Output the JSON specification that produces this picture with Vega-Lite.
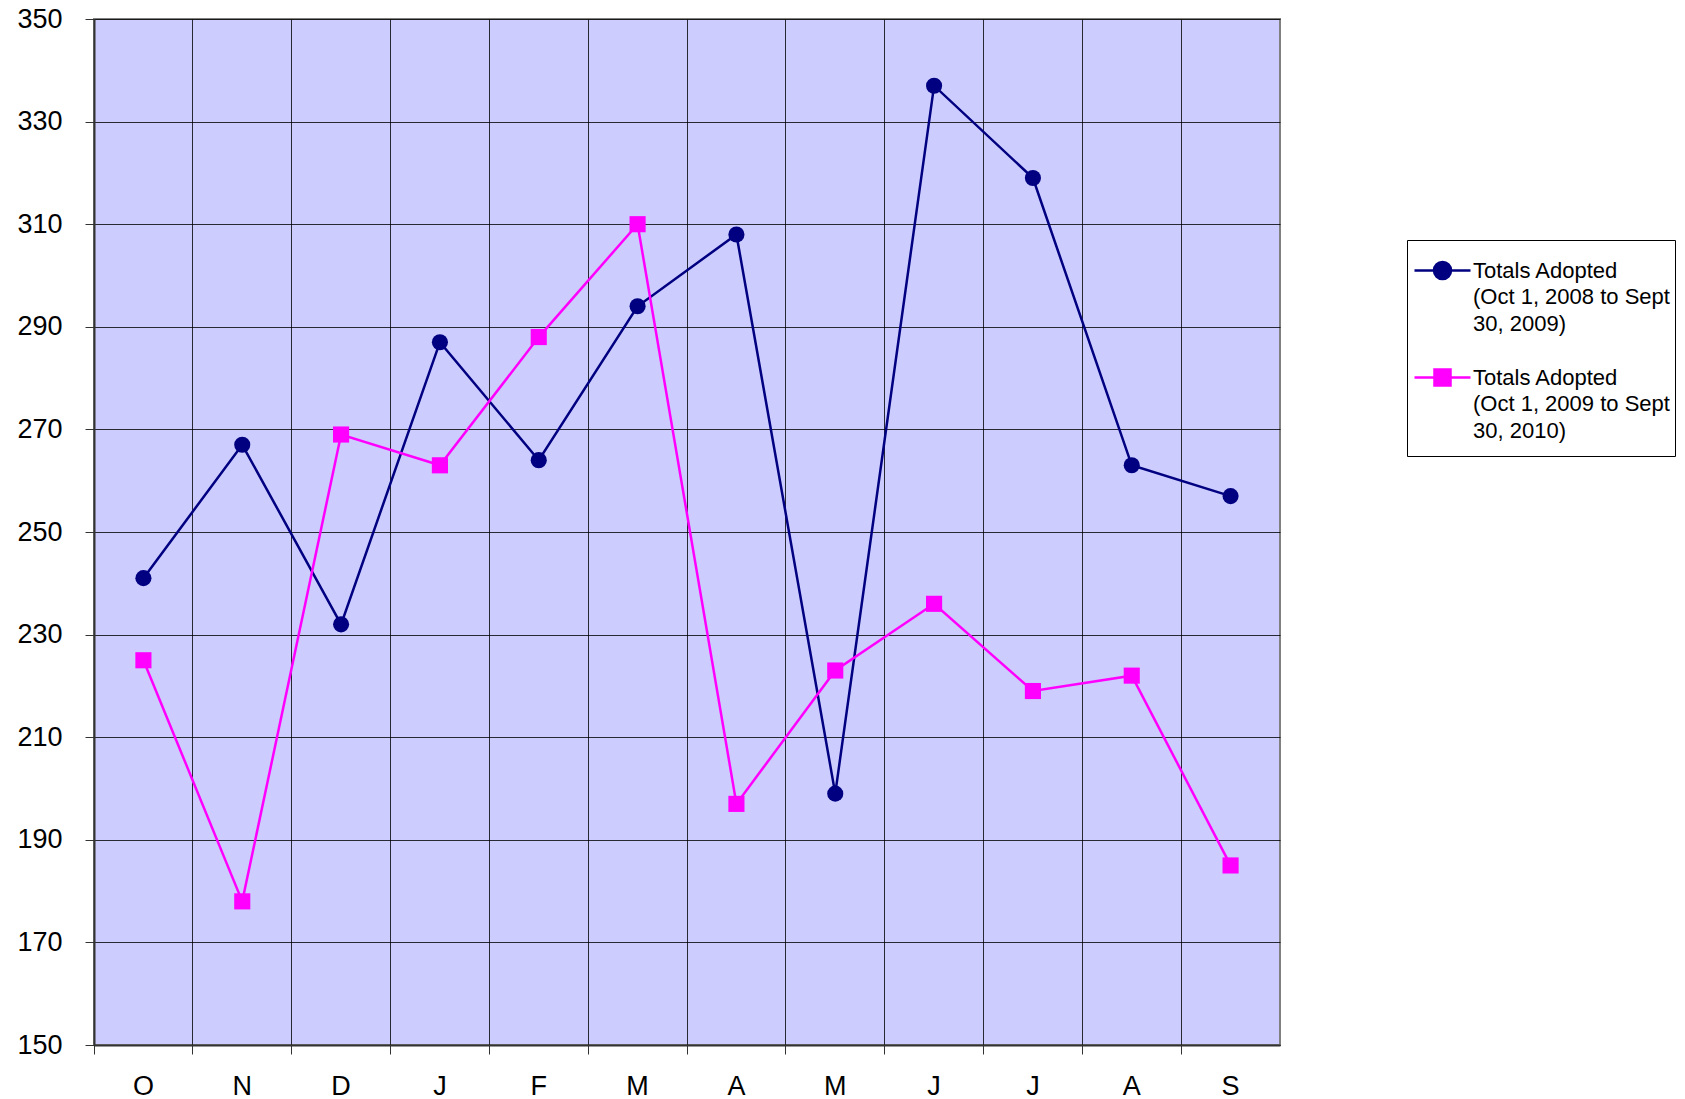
{
  "$schema": "https://vega.github.io/schema/vega-lite/v6.json",
  "autosize": "none",
  "padding": {"left": 94, "top": 19, "right": 405, "bottom": 54},
  "width": 1186,
  "height": 1026,
  "background": "white",
  "config": {
    "view": {"fill": "#CCCCFF", "stroke": "#808080", "strokeWidth": 2},
    "font": "Liberation Sans"
  },
  "data": {
    "values": [
      {"month": "Oct", "series": "Totals Adopted (Oct 1, 2008 to Sept 30, 2009)", "value": 241},
      {"month": "Nov", "series": "Totals Adopted (Oct 1, 2008 to Sept 30, 2009)", "value": 267},
      {"month": "Dec", "series": "Totals Adopted (Oct 1, 2008 to Sept 30, 2009)", "value": 232},
      {"month": "Jan", "series": "Totals Adopted (Oct 1, 2008 to Sept 30, 2009)", "value": 287},
      {"month": "Feb", "series": "Totals Adopted (Oct 1, 2008 to Sept 30, 2009)", "value": 264},
      {"month": "Mar", "series": "Totals Adopted (Oct 1, 2008 to Sept 30, 2009)", "value": 294},
      {"month": "Apr", "series": "Totals Adopted (Oct 1, 2008 to Sept 30, 2009)", "value": 308},
      {"month": "May", "series": "Totals Adopted (Oct 1, 2008 to Sept 30, 2009)", "value": 199},
      {"month": "Jun", "series": "Totals Adopted (Oct 1, 2008 to Sept 30, 2009)", "value": 337},
      {"month": "Jul", "series": "Totals Adopted (Oct 1, 2008 to Sept 30, 2009)", "value": 319},
      {"month": "Aug", "series": "Totals Adopted (Oct 1, 2008 to Sept 30, 2009)", "value": 263},
      {"month": "Sep", "series": "Totals Adopted (Oct 1, 2008 to Sept 30, 2009)", "value": 257},
      {"month": "Oct", "series": "Totals Adopted (Oct 1, 2009 to Sept 30, 2010)", "value": 225},
      {"month": "Nov", "series": "Totals Adopted (Oct 1, 2009 to Sept 30, 2010)", "value": 178},
      {"month": "Dec", "series": "Totals Adopted (Oct 1, 2009 to Sept 30, 2010)", "value": 269},
      {"month": "Jan", "series": "Totals Adopted (Oct 1, 2009 to Sept 30, 2010)", "value": 263},
      {"month": "Feb", "series": "Totals Adopted (Oct 1, 2009 to Sept 30, 2010)", "value": 288},
      {"month": "Mar", "series": "Totals Adopted (Oct 1, 2009 to Sept 30, 2010)", "value": 310},
      {"month": "Apr", "series": "Totals Adopted (Oct 1, 2009 to Sept 30, 2010)", "value": 197},
      {"month": "May", "series": "Totals Adopted (Oct 1, 2009 to Sept 30, 2010)", "value": 223},
      {"month": "Jun", "series": "Totals Adopted (Oct 1, 2009 to Sept 30, 2010)", "value": 236},
      {"month": "Jul", "series": "Totals Adopted (Oct 1, 2009 to Sept 30, 2010)", "value": 219},
      {"month": "Aug", "series": "Totals Adopted (Oct 1, 2009 to Sept 30, 2010)", "value": 222},
      {"month": "Sep", "series": "Totals Adopted (Oct 1, 2009 to Sept 30, 2010)", "value": 185}
    ]
  },
  "encoding": {
    "x": {
      "field": "month",
      "type": "nominal",
      "sort": ["Oct", "Nov", "Dec", "Jan", "Feb", "Mar", "Apr", "May", "Jun", "Jul", "Aug", "Sep"],
      "scale": {"type": "band", "paddingInner": 0, "paddingOuter": 0},
      "axis": {
        "title": null,
        "labelExpr": "substring(datum.label, 0, 1)",
        "labelAngle": 0,
        "bandPosition": 0,
        "labelOffset": 0,
        "grid": true,
        "gridColor": "#000000",
        "gridWidth": 1,
        "gridOpacity": 0.8,
        "domainColor": "#333333",
        "domainWidth": 2,
        "tickColor": "#333333",
        "tickSize": 9,
        "tickWidth": 1,
        "labelFontSize": 27,
        "labelColor": "#000000",
        "labelFont": "Liberation Sans",
        "labelPadding": 19
      }
    },
    "y": {
      "field": "value",
      "type": "quantitative",
      "scale": {"domain": [150, 350], "nice": false, "zero": false},
      "axis": {
        "title": null,
        "values": [150, 170, 190, 210, 230, 250, 270, 290, 310, 330, 350],
        "grid": true,
        "gridColor": "#000000",
        "gridWidth": 1,
        "gridOpacity": 0.8,
        "domainColor": "#333333",
        "domainWidth": 2,
        "tickColor": "#333333",
        "tickSize": 9,
        "labelFontSize": 27,
        "labelColor": "#000000",
        "labelFont": "Liberation Sans",
        "labelPadding": 23
      }
    },
    "color": {
      "field": "series",
      "type": "nominal",
      "scale": {"range": ["#000080", "#FF00FF"]},
      "legend": {
        "title": " ",
        "titleFontSize": 10,
        "titlePadding": 4,
        "orient": "none",
        "legendX": 1313,
        "legendY": 221,
        "padding": 5,
        "strokeColor": "#000000",
        "fillColor": "#FFFFFF",
        "labelFontSize": 22,
        "labelFont": "Liberation Sans",
        "labelColor": "#000000",
        "labelLimit": 400,
        "labelBaseline": "top",
        "rowPadding": 29,
        "symbolOffset": 19,
        "labelOffset": 19,
        "symbolSize": 400,
        "symbolStrokeWidth": 2.5,
        "labelExpr": "test(/2008/, datum.label) ? ['Totals Adopted', '(Oct 1, 2008 to Sept', '30, 2009)'] : ['Totals Adopted', '(Oct 1, 2009 to Sept', '30, 2010)']",
        "encode": {
          "symbols": {
            "update": {
              "shape": {"signal": "datum.index == 0 ? 'M-2.8,0H2.8M-0.85,0A0.85,0.85,0,1,1,0.85,0A0.85,0.85,0,1,1,-0.85,0Z' : 'M0,6.8M-2.8,0H2.8M-0.8,-0.8H0.8V0.8H-0.8Z'"},
              "fill": {"signal": "datum.index == 0 ? '#000080' : '#FF00FF'"},
              "stroke": {"signal": "datum.index == 0 ? '#000080' : '#FF00FF'"},
              "strokeWidth": {"value": 2.5},
              "opacity": {"value": 1},
              "fillOpacity": {"value": 1}
            }
          },
          "labels": {
            "update": {
              "lineHeight": {"value": 26.7},
              "dy": {"value": -10}
            }
          }
        }
      }
    }
  },
  "layer": [
    {
      "mark": {"type": "line", "strokeWidth": 2.5}
    },
    {
      "mark": {"type": "point", "filled": true, "opacity": 1},
      "encoding": {
        "shape": {
          "field": "series",
          "type": "nominal",
          "scale": {"range": ["circle", "square"]},
          "legend": null
        },
        "size": {"value": 260}
      }
    }
  ]
}
